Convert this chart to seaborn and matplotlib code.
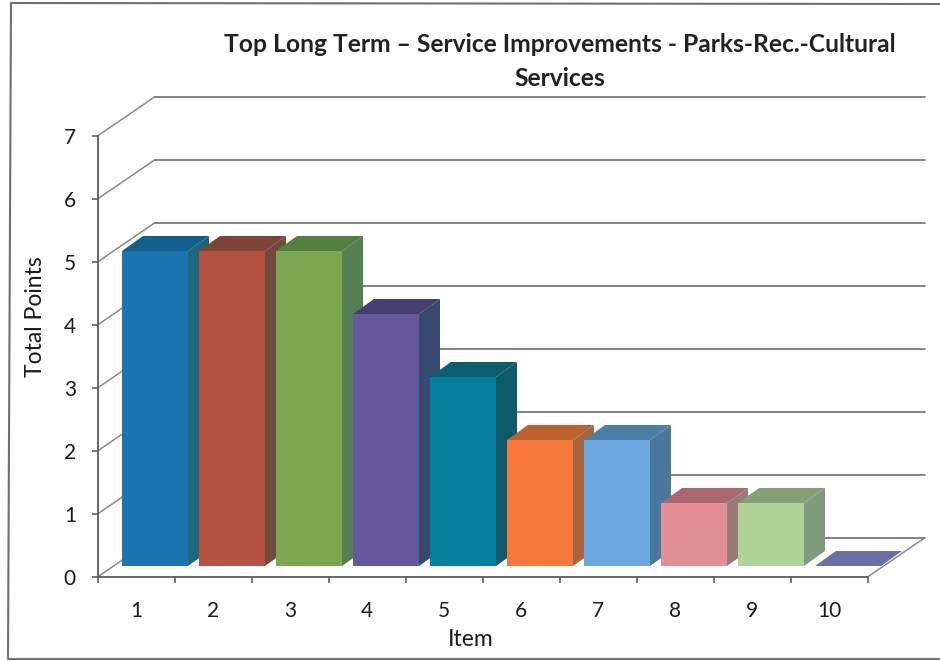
import matplotlib
matplotlib.use('Agg')
import matplotlib.pyplot as plt
from matplotlib.lines import Line2D
from matplotlib.patches import Polygon
import numpy as np
import pandas as pd
import seaborn as sns

# Values
items = ['1', '2', '3', '4', '5', '6', '7', '8', '9', '10']
points = [5, 5, 5, 4, 3, 2, 2, 1, 1, 0]
y_ticks = [0, 1, 2, 3, 4, 5, 6, 7]

front_colors = ['#1B75B0', '#B5523F', '#7CA750', '#65589C', '#067E9E',
                '#F5783A', '#6CA8DF', '#E28F98', '#AED295', '#5E64A0']
top_colors = ['#135F8E', '#7E4438', '#54803F', '#453F71', '#0B5D6F',
              '#BA612E', '#4A7FA8', '#A8686D', '#83A075', '#6A6FA3']
side_colors = ['#1E6680', '#6F4A3E', '#567F54', '#36496E', '#0F5A6A',
               '#A8653D', '#4A789C', '#9B7A78', '#7F9A7C', '#5E64A0']

W, H = 940, 661

sns.set_theme(style='white')
plt.rcParams['font.family'] = ['Lato', 'DejaVu Sans']

fig = plt.figure(figsize=(W / 100, H / 100), dpi=100, facecolor='white')


def px_box(left, right, top, bottom):
    return [left / W, 1 - bottom / H, (right - left) / W, (bottom - top) / H]


# Front axis box, then the same box pushed back for the bars
ax = fig.add_axes(px_box(97.5, 867.5, 136, 577))
ax_bars = fig.add_axes(px_box(116.5, 886.5, 125, 566))

for a in (ax, ax_bars):
    a.set_xlim(-0.5, 9.5)
    a.set_ylim(0, 7)

# Back wall and floor of the fake 3D box
grid_color = '#6e6e6e'
wall_dx = 57 / 77
wall_dy = 39 / 63
x0, x1 = -0.5, 9.5
for v in y_ticks:
    ax.plot([x0, x0 + wall_dx], [v, v + wall_dy], color='#8a8a8a', lw=1.1, clip_on=False)
    ax.plot([x0 + wall_dx, x1 + wall_dx], [v + wall_dy, v + wall_dy],
            color=grid_color, lw=1.2, clip_on=False)
ax.plot([x1, x1 + wall_dx], [0, wall_dy], color='#8a8a8a', lw=1.1, clip_on=False)

df = pd.DataFrame({'item': items, 'points': points})
sns.barplot(data=df, x='item', y='points', hue='item', palette=front_colors,
            saturation=1, width=66 / 77, legend=False, linewidth=0, ax=ax_bars)
ax_bars.set_xlim(-0.5, 9.5)
ax_bars.set_ylim(0, 7)
ax_bars.axis('off')
ax_bars.patch.set_alpha(0)

# Side and top faces worked out from the bars seaborn drew
depth_x = 21 / 77
depth_y = 15 / 63
bars = sorted([p for p in ax_bars.patches], key=lambda p: p.get_x())
for bar, top_c, side_c in zip(bars, top_colors, side_colors):
    bx, bw, bh = bar.get_x(), bar.get_width(), bar.get_height()
    bar.set_zorder(4)
    bar.set_clip_on(False)
    bar.set_edgecolor('none')
    if bh > 0:
        ax_bars.add_patch(Polygon([(bx + bw, 0), (bx + bw + depth_x, depth_y),
                                   (bx + bw + depth_x, bh + depth_y), (bx + bw, bh)],
                                  facecolor=side_c, edgecolor='none', zorder=2, clip_on=False))
    ax_bars.add_patch(Polygon([(bx, bh), (bx + depth_x, bh + depth_y),
                               (bx + bw + depth_x, bh + depth_y), (bx + bw, bh)],
                              facecolor=top_c, edgecolor='none', zorder=3, clip_on=False))

# Axis ticks and labels
ax.set_yticks(y_ticks)
ax.set_yticklabels([str(v) for v in y_ticks], fontsize=15, color='#1a1a1a')
ax.set_xticks(np.arange(-0.5, 10), labels=[])
ax.set_xticks(np.arange(10), labels=items, minor=True, fontsize=15, color='#1a1a1a')
ax.tick_params(axis='both', which='major', length=4.5, width=1.1, color='#555555',
               left=True, bottom=True, direction='out')
ax.tick_params(axis='y', pad=11)
ax.tick_params(axis='x', which='minor', length=0, pad=17)
ax.set_xlabel('Item', fontsize=16.5, color='#1a1a1a')
ax.set_ylabel('Total Points', fontsize=16.5, color='#1a1a1a')
ax.xaxis.set_label_coords((471 - 97.5) / 770, -(640 - 577) / 441, transform=ax.transAxes)
ax.xaxis.label.set_va('center')
ax.yaxis.set_label_coords(-(97.5 - 35) / 770, (577 - 317) / 441, transform=ax.transAxes)
ax.yaxis.label.set_va('center')
ax.patch.set_alpha(0)
sns.despine(ax=ax)
for side in ('left', 'bottom'):
    ax.spines[side].set_color('#5a5a5a')
    ax.spines[side].set_linewidth(1.3)

# Title
fig.text(560 / W, 1 - 44 / H, 'Top Long Term \u2013 Service Improvements - Parks-Rec.-Cultural',
         ha='center', va='center', fontsize=17.7, fontweight='bold', color='#222222')
fig.text(560 / W, 1 - 79 / H, 'Services',
         ha='center', va='center', fontsize=17.7, fontweight='bold', color='#222222')

# Chart frame from the scan, leans a little and runs off the right edge
frame_x = [1, 11 / W, 8 / W, 1]
frame_y = [1 - 4 / H, 1 - 3 / H, 1 - 659 / H, 1 - 659 / H]
fig.add_artist(Line2D(frame_x, frame_y, color='#6f6f6f', lw=1.5))

fig.savefig('out.png', dpi=100)
